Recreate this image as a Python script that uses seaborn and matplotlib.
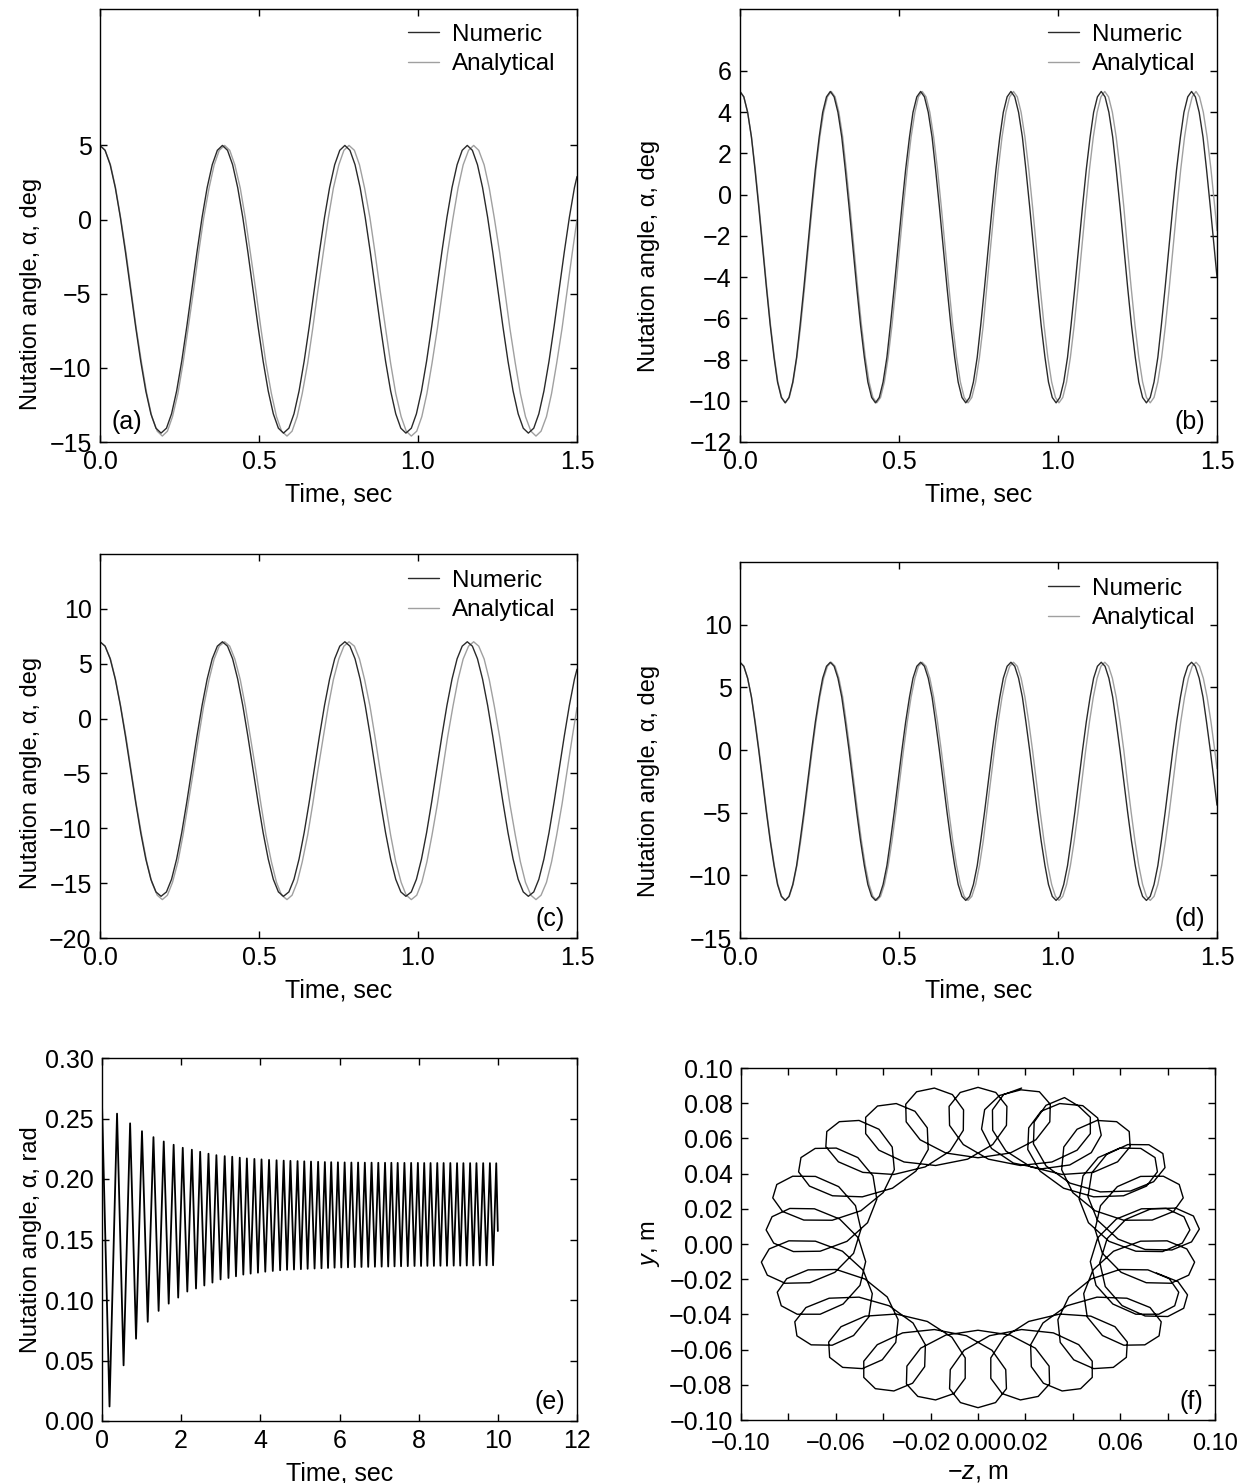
import matplotlib
matplotlib.use("Agg")
import matplotlib.pyplot as plt
from matplotlib.transforms import blended_transform_factory, offset_copy
import seaborn as sns
import pandas as pd

# ---- panels (a) and (c): time samples (sec) ----
time_ac_num = [0.000, 0.016, 0.032, 0.048, 0.064, 0.080, 0.096, 0.112, 0.128, 0.144, 0.160, 0.176,
               0.192, 0.209, 0.225, 0.241, 0.257, 0.273, 0.289, 0.305, 0.321, 0.337, 0.353, 0.369,
               0.385, 0.401, 0.417, 0.433, 0.449, 0.465, 0.481, 0.497, 0.513, 0.529, 0.545, 0.561,
               0.577, 0.594, 0.610, 0.626, 0.642, 0.658, 0.674, 0.690, 0.706, 0.722, 0.738, 0.754,
               0.770, 0.786, 0.802, 0.818, 0.834, 0.850, 0.866, 0.882, 0.898, 0.914, 0.930, 0.946,
               0.962, 0.979, 0.995, 1.011, 1.027, 1.043, 1.059, 1.075, 1.091, 1.107, 1.123, 1.139,
               1.155, 1.171, 1.187, 1.203, 1.219, 1.235, 1.251, 1.267, 1.283, 1.299, 1.315, 1.331,
               1.347, 1.364, 1.380, 1.396, 1.412, 1.428, 1.444, 1.460, 1.476, 1.492, 1.500]
time_ac_ana = [0.000, 0.016, 0.033, 0.049, 0.065, 0.082, 0.098, 0.114, 0.131, 0.147, 0.163, 0.180,
               0.196, 0.212, 0.228, 0.245, 0.261, 0.277, 0.294, 0.310, 0.326, 0.343, 0.359, 0.375,
               0.392, 0.408, 0.424, 0.441, 0.457, 0.473, 0.490, 0.506, 0.522, 0.539, 0.555, 0.571,
               0.588, 0.604, 0.620, 0.636, 0.653, 0.669, 0.685, 0.702, 0.718, 0.734, 0.751, 0.767,
               0.783, 0.800, 0.816, 0.832, 0.849, 0.865, 0.881, 0.898, 0.914, 0.930, 0.947, 0.963,
               0.979, 0.996, 1.012, 1.028, 1.044, 1.061, 1.077, 1.093, 1.110, 1.126, 1.142, 1.159,
               1.175, 1.191, 1.208, 1.224, 1.240, 1.257, 1.273, 1.289, 1.306, 1.322, 1.338, 1.355,
               1.371, 1.387, 1.404, 1.420, 1.436, 1.453, 1.469, 1.485, 1.500]

a_num = [5.00, 4.67, 3.70, 2.16, 0.15, -2.19, -4.70, -7.21, -9.55, -11.56, -13.10, -14.07,
         -14.40, -14.07, -13.10, -11.56, -9.55, -7.21, -4.70, -2.19, 0.15, 2.16, 3.70, 4.67,
         5.00, 4.67, 3.70, 2.16, 0.15, -2.19, -4.70, -7.21, -9.55, -11.56, -13.10, -14.07,
         -14.40, -14.07, -13.10, -11.56, -9.55, -7.21, -4.70, -2.19, 0.15, 2.16, 3.70, 4.67,
         5.00, 4.67, 3.70, 2.16, 0.15, -2.19, -4.70, -7.21, -9.55, -11.56, -13.10, -14.07,
         -14.40, -14.07, -13.10, -11.56, -9.55, -7.21, -4.70, -2.19, 0.15, 2.16, 3.70, 4.67,
         5.00, 4.67, 3.70, 2.16, 0.15, -2.19, -4.70, -7.21, -9.55, -11.56, -13.10, -14.07,
         -14.40, -14.07, -13.10, -11.56, -9.55, -7.21, -4.70, -2.19, 0.15, 2.16, 2.90]
a_ana = [5.00, 4.67, 3.69, 2.13, 0.10, -2.26, -4.80, -7.34, -9.70, -11.73, -13.29, -14.27,
         -14.60, -14.27, -13.29, -11.73, -9.70, -7.34, -4.80, -2.26, 0.10, 2.13, 3.69, 4.67,
         5.00, 4.67, 3.69, 2.13, 0.10, -2.26, -4.80, -7.34, -9.70, -11.73, -13.29, -14.27,
         -14.60, -14.27, -13.29, -11.73, -9.70, -7.34, -4.80, -2.26, 0.10, 2.13, 3.69, 4.67,
         5.00, 4.67, 3.69, 2.13, 0.10, -2.26, -4.80, -7.34, -9.70, -11.73, -13.29, -14.27,
         -14.60, -14.27, -13.29, -11.73, -9.70, -7.34, -4.80, -2.26, 0.10, 2.13, 3.69, 4.67,
         5.00, 4.67, 3.69, 2.13, 0.10, -2.26, -4.80, -7.34, -9.70, -11.73, -13.29, -14.27,
         -14.60, -14.27, -13.29, -11.73, -9.70, -7.34, -4.80, -2.26, 0.00]

c_num = [7.00, 6.60, 5.45, 3.60, 1.20, -1.60, -4.60, -7.60, -10.40, -12.80, -14.65, -15.80,
         -16.20, -15.80, -14.65, -12.80, -10.40, -7.60, -4.60, -1.60, 1.20, 3.60, 5.45, 6.60,
         7.00, 6.60, 5.45, 3.60, 1.20, -1.60, -4.60, -7.60, -10.40, -12.80, -14.65, -15.80,
         -16.20, -15.80, -14.65, -12.80, -10.40, -7.60, -4.60, -1.60, 1.20, 3.60, 5.45, 6.60,
         7.00, 6.60, 5.45, 3.60, 1.20, -1.60, -4.60, -7.60, -10.40, -12.80, -14.65, -15.80,
         -16.20, -15.80, -14.65, -12.80, -10.40, -7.60, -4.60, -1.60, 1.20, 3.60, 5.45, 6.60,
         7.00, 6.60, 5.45, 3.60, 1.20, -1.60, -4.60, -7.60, -10.40, -12.80, -14.65, -15.80,
         -16.20, -15.80, -14.65, -12.80, -10.40, -7.60, -4.60, -1.60, 1.20, 3.60, 4.50]
c_ana = [7.00, 6.60, 5.43, 3.56, 1.13, -1.71, -4.75, -7.79, -10.63, -13.06, -14.93, -16.10,
         -16.50, -16.10, -14.93, -13.06, -10.63, -7.79, -4.75, -1.71, 1.13, 3.56, 5.43, 6.60,
         7.00, 6.60, 5.43, 3.56, 1.13, -1.71, -4.75, -7.79, -10.63, -13.06, -14.93, -16.10,
         -16.50, -16.10, -14.93, -13.06, -10.63, -7.79, -4.75, -1.71, 1.13, 3.56, 5.43, 6.60,
         7.00, 6.60, 5.43, 3.56, 1.13, -1.71, -4.75, -7.79, -10.63, -13.06, -14.93, -16.10,
         -16.50, -16.10, -14.93, -13.06, -10.63, -7.79, -4.75, -1.71, 1.13, 3.56, 5.43, 6.60,
         7.00, 6.60, 5.43, 3.56, 1.13, -1.71, -4.75, -7.79, -10.63, -13.06, -14.93, -16.10,
         -16.50, -16.10, -14.93, -13.06, -10.63, -7.79, -4.75, -1.71, 1.00]

# ---- panels (b) and (d) ----
time_bd_num = [0.000, 0.012, 0.024, 0.036, 0.047, 0.059, 0.071, 0.083, 0.095, 0.107, 0.118, 0.130,
               0.142, 0.154, 0.166, 0.178, 0.189, 0.201, 0.213, 0.225, 0.237, 0.249, 0.260, 0.272,
               0.284, 0.296, 0.308, 0.320, 0.331, 0.343, 0.355, 0.367, 0.379, 0.391, 0.402, 0.414,
               0.426, 0.438, 0.450, 0.462, 0.473, 0.485, 0.497, 0.509, 0.521, 0.533, 0.544, 0.556,
               0.568, 0.580, 0.592, 0.604, 0.615, 0.627, 0.639, 0.651, 0.663, 0.675, 0.686, 0.698,
               0.710, 0.722, 0.734, 0.746, 0.757, 0.769, 0.781, 0.793, 0.805, 0.817, 0.828, 0.840,
               0.852, 0.864, 0.876, 0.888, 0.899, 0.911, 0.923, 0.935, 0.947, 0.959, 0.970, 0.982,
               0.994, 1.006, 1.018, 1.030, 1.041, 1.053, 1.065, 1.077, 1.089, 1.101, 1.112, 1.124,
               1.136, 1.148, 1.160, 1.172, 1.183, 1.195, 1.207, 1.219, 1.231, 1.243, 1.254, 1.266,
               1.278, 1.290, 1.302, 1.314, 1.325, 1.337, 1.349, 1.361, 1.373, 1.385, 1.396, 1.408,
               1.420, 1.432, 1.444, 1.456, 1.467, 1.479, 1.491, 1.500]
time_bd_ana = [0.000, 0.012, 0.024, 0.036, 0.048, 0.060, 0.072, 0.084, 0.096, 0.108, 0.119, 0.131,
               0.143, 0.155, 0.167, 0.179, 0.191, 0.203, 0.215, 0.227, 0.239, 0.251, 0.263, 0.275,
               0.287, 0.299, 0.311, 0.323, 0.334, 0.346, 0.358, 0.370, 0.382, 0.394, 0.406, 0.418,
               0.430, 0.442, 0.454, 0.466, 0.478, 0.490, 0.502, 0.514, 0.526, 0.538, 0.550, 0.561,
               0.573, 0.585, 0.597, 0.609, 0.621, 0.633, 0.645, 0.657, 0.669, 0.681, 0.693, 0.705,
               0.717, 0.729, 0.741, 0.753, 0.765, 0.776, 0.788, 0.800, 0.812, 0.824, 0.836, 0.848,
               0.860, 0.872, 0.884, 0.896, 0.908, 0.920, 0.932, 0.944, 0.956, 0.968, 0.980, 0.992,
               1.003, 1.015, 1.027, 1.039, 1.051, 1.063, 1.075, 1.087, 1.099, 1.111, 1.123, 1.135,
               1.147, 1.159, 1.171, 1.183, 1.195, 1.207, 1.218, 1.230, 1.242, 1.254, 1.266, 1.278,
               1.290, 1.302, 1.314, 1.326, 1.338, 1.350, 1.362, 1.374, 1.386, 1.398, 1.410, 1.422,
               1.434, 1.445, 1.457, 1.469, 1.481, 1.493, 1.500]

b_num = [5.00, 4.74, 3.99, 2.79, 1.23, -0.60, -2.55, -4.50, -6.33, -7.89, -9.09, -9.84,
         -10.10, -9.84, -9.09, -7.89, -6.33, -4.50, -2.55, -0.60, 1.23, 2.79, 3.99, 4.74,
         5.00, 4.74, 3.99, 2.79, 1.23, -0.60, -2.55, -4.50, -6.33, -7.89, -9.09, -9.84,
         -10.10, -9.84, -9.09, -7.89, -6.33, -4.50, -2.55, -0.60, 1.23, 2.79, 3.99, 4.74,
         5.00, 4.74, 3.99, 2.79, 1.23, -0.60, -2.55, -4.50, -6.33, -7.89, -9.09, -9.84,
         -10.10, -9.84, -9.09, -7.89, -6.33, -4.50, -2.55, -0.60, 1.23, 2.79, 3.99, 4.74,
         5.00, 4.74, 3.99, 2.79, 1.23, -0.60, -2.55, -4.50, -6.33, -7.89, -9.09, -9.84,
         -10.10, -9.84, -9.09, -7.89, -6.33, -4.50, -2.55, -0.60, 1.23, 2.79, 3.99, 4.74,
         5.00, 4.74, 3.99, 2.79, 1.23, -0.60, -2.55, -4.50, -6.33, -7.89, -9.09, -9.84,
         -10.10, -9.84, -9.09, -7.89, -6.33, -4.50, -2.55, -0.60, 1.23, 2.79, 3.99, 4.74,
         5.00, 4.74, 3.99, 2.79, 1.23, -0.60, -2.55, -4.00]
b_ana = [5.00, 4.74, 3.99, 2.79, 1.23, -0.60, -2.55, -4.50, -6.33, -7.89, -9.09, -9.84,
         -10.10, -9.84, -9.09, -7.89, -6.33, -4.50, -2.55, -0.60, 1.23, 2.79, 3.99, 4.74,
         5.00, 4.74, 3.99, 2.79, 1.23, -0.60, -2.55, -4.50, -6.33, -7.89, -9.09, -9.84,
         -10.10, -9.84, -9.09, -7.89, -6.33, -4.50, -2.55, -0.60, 1.23, 2.79, 3.99, 4.74,
         5.00, 4.74, 3.99, 2.79, 1.23, -0.60, -2.55, -4.50, -6.33, -7.89, -9.09, -9.84,
         -10.10, -9.84, -9.09, -7.89, -6.33, -4.50, -2.55, -0.60, 1.23, 2.79, 3.99, 4.74,
         5.00, 4.74, 3.99, 2.79, 1.23, -0.60, -2.55, -4.50, -6.33, -7.89, -9.09, -9.84,
         -10.10, -9.84, -9.09, -7.89, -6.33, -4.50, -2.55, -0.60, 1.23, 2.79, 3.99, 4.74,
         5.00, 4.74, 3.99, 2.79, 1.23, -0.60, -2.55, -4.50, -6.33, -7.89, -9.09, -9.84,
         -10.10, -9.84, -9.09, -7.89, -6.33, -4.50, -2.55, -0.60, 1.23, 2.79, 3.99, 4.74,
         5.00, 4.74, 3.99, 2.79, 1.23, -0.60, -1.75]

d_num = [7.00, 6.68, 5.73, 4.22, 2.25, -0.04, -2.50, -4.96, -7.25, -9.22, -10.73, -11.68,
         -12.00, -11.68, -10.73, -9.22, -7.25, -4.96, -2.50, -0.04, 2.25, 4.22, 5.73, 6.68,
         7.00, 6.68, 5.73, 4.22, 2.25, -0.04, -2.50, -4.96, -7.25, -9.22, -10.73, -11.68,
         -12.00, -11.68, -10.73, -9.22, -7.25, -4.96, -2.50, -0.04, 2.25, 4.22, 5.73, 6.68,
         7.00, 6.68, 5.73, 4.22, 2.25, -0.04, -2.50, -4.96, -7.25, -9.22, -10.73, -11.68,
         -12.00, -11.68, -10.73, -9.22, -7.25, -4.96, -2.50, -0.04, 2.25, 4.22, 5.73, 6.68,
         7.00, 6.68, 5.73, 4.22, 2.25, -0.04, -2.50, -4.96, -7.25, -9.22, -10.73, -11.68,
         -12.00, -11.68, -10.73, -9.22, -7.25, -4.96, -2.50, -0.04, 2.25, 4.22, 5.73, 6.68,
         7.00, 6.68, 5.73, 4.22, 2.25, -0.04, -2.50, -4.96, -7.25, -9.22, -10.73, -11.68,
         -12.00, -11.68, -10.73, -9.22, -7.25, -4.96, -2.50, -0.04, 2.25, 4.22, 5.73, 6.68,
         7.00, 6.68, 5.73, 4.22, 2.25, -0.04, -2.50, -4.40]
d_ana = [7.00, 6.68, 5.73, 4.22, 2.25, -0.04, -2.50, -4.96, -7.25, -9.22, -10.73, -11.68,
         -12.00, -11.68, -10.73, -9.22, -7.25, -4.96, -2.50, -0.04, 2.25, 4.22, 5.73, 6.68,
         7.00, 6.68, 5.73, 4.22, 2.25, -0.04, -2.50, -4.96, -7.25, -9.22, -10.73, -11.68,
         -12.00, -11.68, -10.73, -9.22, -7.25, -4.96, -2.50, -0.04, 2.25, 4.22, 5.73, 6.68,
         7.00, 6.68, 5.73, 4.22, 2.25, -0.04, -2.50, -4.96, -7.25, -9.22, -10.73, -11.68,
         -12.00, -11.68, -10.73, -9.22, -7.25, -4.96, -2.50, -0.04, 2.25, 4.22, 5.73, 6.68,
         7.00, 6.68, 5.73, 4.22, 2.25, -0.04, -2.50, -4.96, -7.25, -9.22, -10.73, -11.68,
         -12.00, -11.68, -10.73, -9.22, -7.25, -4.96, -2.50, -0.04, 2.25, 4.22, 5.73, 6.68,
         7.00, 6.68, 5.73, 4.22, 2.25, -0.04, -2.50, -4.96, -7.25, -9.22, -10.73, -11.68,
         -12.00, -11.68, -10.73, -9.22, -7.25, -4.96, -2.50, -0.04, 2.25, 4.22, 5.73, 6.68,
         7.00, 6.68, 5.73, 4.22, 2.25, -0.04, -1.50]

# ---- panel (e): peaks and troughs of alpha (rad) ----
peak_t = [0.00, 0.38, 0.71, 1.01, 1.30, 1.56, 1.81, 2.04, 2.27, 2.48, 2.69, 2.89, 3.10, 3.29,
          3.48, 3.66, 3.85, 4.03, 4.22, 4.41, 4.59, 4.76, 4.94, 5.11, 5.28, 5.46, 5.63, 5.79,
          5.96, 6.13, 6.30, 6.47, 6.64, 6.81, 6.98, 7.15, 7.31, 7.47, 7.64, 7.81, 7.98, 8.14,
          8.30, 8.47, 8.63, 8.80, 8.97, 9.13, 9.30, 9.46, 9.63, 9.80, 9.96]
peak_v = [0.262, 0.254, 0.246, 0.2395, 0.2346, 0.231, 0.2283, 0.2258, 0.2242, 0.2225, 0.2209,
          0.2197, 0.2189, 0.2184, 0.2176, 0.2170, 0.2166, 0.2162, 0.2158, 0.2155, 0.2152, 0.2150,
          0.2148, 0.2146, 0.2144, 0.2142, 0.2140, 0.2139, 0.2138, 0.2137, 0.2136, 0.2136, 0.2135,
          0.2135, 0.2134, 0.2134, 0.2134, 0.2133, 0.2133, 0.2133, 0.2133, 0.2132, 0.2132, 0.2132,
          0.2132, 0.2132, 0.2131, 0.2131, 0.2131, 0.2131, 0.2131, 0.2131, 0.2130]
trough_t = [0.19, 0.545, 0.86, 1.155, 1.43, 1.685, 1.925, 2.155, 2.375, 2.585, 2.79, 2.995,
            3.195, 3.385, 3.57, 3.755, 3.94, 4.125, 4.315, 4.50, 4.675, 4.85, 5.025, 5.195,
            5.37, 5.545, 5.71, 5.875, 6.045, 6.215, 6.385, 6.555, 6.725, 6.895, 7.065, 7.23,
            7.39, 7.555, 7.725, 7.895, 8.06, 8.22, 8.385, 8.55, 8.715, 8.885, 9.05, 9.215,
            9.38, 9.545, 9.715, 9.88]
trough_v = [0.012, 0.046, 0.068, 0.082, 0.091, 0.097, 0.102, 0.107, 0.1095, 0.112, 0.1144,
            0.117, 0.1182, 0.1196, 0.121, 0.1218, 0.1226, 0.1234, 0.124, 0.1246, 0.125, 0.1252,
            0.1255, 0.1258, 0.126, 0.1262, 0.1265, 0.1267, 0.1269, 0.1270, 0.1272, 0.1273,
            0.1274, 0.1275, 0.1276, 0.1277, 0.1278, 0.1279, 0.1280, 0.1281, 0.1281, 0.1282,
            0.1282, 0.1283, 0.1283, 0.1284, 0.1284, 0.1285, 0.1285, 0.1286, 0.1286, 0.1287]
end_t, end_v = 10.0, 0.157

# ---- panel (f): trajectory, -z and y (m) ----
minus_z = [0.0184, 0.0108, 0.0061, 0.0062, 0.0118, 0.0223, 0.0355, 0.0486, 0.0589, 0.0642, 0.0638, 0.0585,
           0.0502, 0.0418, 0.0362, 0.0353, 0.0400, 0.0494, 0.0615, 0.0735, 0.0825, 0.0866, 0.0849, 0.0782,
           0.0686, 0.0588, 0.0517, 0.0494, 0.0525, 0.0604, 0.0710, 0.0814, 0.0889, 0.0914, 0.0881, 0.0798,
           0.0686, 0.0572, 0.0485, 0.0446, 0.0461, 0.0525, 0.0615, 0.0704, 0.0764, 0.0773, 0.0726, 0.0628,
           0.0502, 0.0375, 0.0274, 0.0222, 0.0225, 0.0276, 0.0355, 0.0433, 0.0482, 0.0482, 0.0425, 0.0318,
           0.0184, 0.0049, -0.0059, -0.0117, -0.0120, -0.0074, 0.0000, 0.0074, 0.0120, 0.0117, 0.0059, -0.0049,
           -0.0184, -0.0318, -0.0425, -0.0482, -0.0482, -0.0433, -0.0355, -0.0276, -0.0225, -0.0222, -0.0274, -0.0375,
           -0.0502, -0.0628, -0.0726, -0.0773, -0.0764, -0.0704, -0.0615, -0.0525, -0.0461, -0.0446, -0.0485, -0.0572,
           -0.0686, -0.0798, -0.0881, -0.0914, -0.0889, -0.0814, -0.0710, -0.0604, -0.0525, -0.0494, -0.0517, -0.0588,
           -0.0686, -0.0782, -0.0849, -0.0866, -0.0825, -0.0735, -0.0615, -0.0494, -0.0400, -0.0353, -0.0362, -0.0418,
           -0.0502, -0.0585, -0.0638, -0.0642, -0.0589, -0.0486, -0.0355, -0.0223, -0.0118, -0.0062, -0.0061, -0.0108,
           -0.0184, -0.0259, -0.0305, -0.0303, -0.0244, -0.0136, 0.0000, 0.0136, 0.0244, 0.0303, 0.0305, 0.0259,
           0.0181, 0.0091, 0.0028, 0.0015, 0.0057, 0.0149, 0.0268, 0.0387, 0.0478, 0.0520, 0.0505, 0.0442,
           0.0345, 0.0266, 0.0214, 0.0210, 0.0262, 0.0361, 0.0488, 0.0614, 0.0711, 0.0757, 0.0747, 0.0687,
           0.0598, 0.0507, 0.0443, 0.0427, 0.0466, 0.0553, 0.0666, 0.0779, 0.0862, 0.0894, 0.0869, 0.0794,
           0.0690, 0.0584, 0.0505, 0.0474, 0.0498, 0.0569, 0.0666, 0.0763, 0.0830, 0.0847, 0.0807, 0.0717,
           0.0598, 0.0477, 0.0383, 0.0337, 0.0347, 0.0404, 0.0488, 0.0571, 0.0626, 0.0630, 0.0578, 0.0476,
           0.0345, 0.0214, 0.0110, 0.0054, 0.0054, 0.0102, 0.0179, 0.0254, 0.0302, 0.0300, 0.0242, 0.0135,
           0.0000, -0.0135, -0.0242, -0.0300, -0.0302, -0.0254, -0.0179, -0.0102, -0.0054, -0.0054, -0.0110, -0.0214,
           -0.0345, -0.0476, -0.0578, -0.0630, -0.0626, -0.0571, -0.0488, -0.0404, -0.0347, -0.0337, -0.0383, -0.0477,
           -0.0598, -0.0717, -0.0807, -0.0847, -0.0830, -0.0763, -0.0666, -0.0569, -0.0498, -0.0474, -0.0505, -0.0584,
           -0.0690, -0.0794, -0.0869, -0.0894, -0.0862, -0.0779, -0.0666, -0.0553, -0.0466, -0.0427, -0.0443, -0.0507,
           -0.0598, -0.0687, -0.0747, -0.0757, -0.0711, -0.0614, -0.0488, -0.0361, -0.0262, -0.0210, -0.0214, -0.0266,
           -0.0345, -0.0424, -0.0474, -0.0474, -0.0418, -0.0312, -0.0179, -0.0044, 0.0062, 0.0120, 0.0122, 0.0075,
           0.0000, -0.0075, -0.0122, -0.0120, -0.0062, 0.0044, 0.0179, 0.0312, 0.0418, 0.0474, 0.0474, 0.0424,
           0.0365, 0.0287, 0.0237, 0.0234, 0.0287, 0.0388, 0.0516, 0.0643, 0.0741, 0.0789, 0.0780, 0.0721,
           0.0632, 0.0543, 0.0480, 0.0464, 0.0504, 0.0591, 0.0705, 0.0818, 0.0901, 0.0934, 0.0909, 0.0834,
           0.0730, 0.0624, 0.0545, 0.0514, 0.0537, 0.0608, 0.0705, 0.0801, 0.0868, 0.0884, 0.0844, 0.0753]
y_pos = [0.0886, 0.0849, 0.0762, 0.0646, 0.0528, 0.0438, 0.0395, 0.0407, 0.0467, 0.0553, 0.0639, 0.0695,
         0.0702, 0.0652, 0.0551, 0.0422, 0.0292, 0.0189, 0.0135, 0.0136, 0.0185, 0.0262, 0.0338, 0.0385,
         0.0384, 0.0326, 0.0218, 0.0083, -0.0053, -0.0161, -0.0220, -0.0223, -0.0177, -0.0103, -0.0028, 0.0018,
         0.0016, -0.0041, -0.0148, -0.0282, -0.0415, -0.0520, -0.0575, -0.0573, -0.0522, -0.0442, -0.0361, -0.0308,
         -0.0302, -0.0351, -0.0449, -0.0573, -0.0697, -0.0791, -0.0835, -0.0822, -0.0758, -0.0666, -0.0572, -0.0505,
         -0.0486, -0.0521, -0.0604, -0.0714, -0.0822, -0.0901, -0.0930, -0.0901, -0.0822, -0.0714, -0.0604, -0.0521,
         -0.0486, -0.0505, -0.0572, -0.0666, -0.0758, -0.0822, -0.0835, -0.0791, -0.0697, -0.0573, -0.0449, -0.0351,
         -0.0302, -0.0308, -0.0361, -0.0442, -0.0522, -0.0573, -0.0575, -0.0520, -0.0415, -0.0282, -0.0148, -0.0041,
         0.0016, 0.0018, -0.0028, -0.0103, -0.0177, -0.0223, -0.0220, -0.0161, -0.0053, 0.0083, 0.0218, 0.0326,
         0.0384, 0.0385, 0.0338, 0.0262, 0.0185, 0.0136, 0.0135, 0.0189, 0.0292, 0.0422, 0.0551, 0.0652,
         0.0702, 0.0695, 0.0639, 0.0553, 0.0467, 0.0407, 0.0395, 0.0438, 0.0528, 0.0646, 0.0762, 0.0849,
         0.0886, 0.0865, 0.0794, 0.0694, 0.0592, 0.0517, 0.0490, 0.0517, 0.0592, 0.0694, 0.0794, 0.0865,
         0.0876, 0.0844, 0.0763, 0.0653, 0.0543, 0.0460, 0.0427, 0.0449, 0.0519, 0.0618, 0.0716, 0.0786,
         0.0798, 0.0754, 0.0660, 0.0537, 0.0414, 0.0317, 0.0268, 0.0274, 0.0329, 0.0410, 0.0491, 0.0543,
         0.0545, 0.0491, 0.0387, 0.0254, 0.0121, 0.0015, -0.0041, -0.0043, 0.0005, 0.0080, 0.0155, 0.0202,
         0.0200, 0.0142, 0.0035, -0.0100, -0.0235, -0.0341, -0.0399, -0.0399, -0.0351, -0.0274, -0.0197, -0.0147,
         -0.0145, -0.0199, -0.0301, -0.0430, -0.0559, -0.0658, -0.0708, -0.0701, -0.0644, -0.0557, -0.0470, -0.0410,
         -0.0398, -0.0440, -0.0530, -0.0647, -0.0763, -0.0850, -0.0886, -0.0866, -0.0795, -0.0694, -0.0592, -0.0517,
         -0.0490, -0.0517, -0.0592, -0.0694, -0.0795, -0.0866, -0.0886, -0.0850, -0.0763, -0.0647, -0.0530, -0.0440,
         -0.0398, -0.0410, -0.0470, -0.0557, -0.0644, -0.0701, -0.0708, -0.0658, -0.0559, -0.0430, -0.0301, -0.0199,
         -0.0145, -0.0147, -0.0197, -0.0274, -0.0351, -0.0399, -0.0399, -0.0341, -0.0235, -0.0100, 0.0035, 0.0142,
         0.0200, 0.0202, 0.0155, 0.0080, 0.0005, -0.0043, -0.0041, 0.0015, 0.0121, 0.0254, 0.0387, 0.0491,
         0.0545, 0.0543, 0.0491, 0.0410, 0.0329, 0.0274, 0.0268, 0.0317, 0.0414, 0.0537, 0.0660, 0.0754,
         0.0798, 0.0784, 0.0720, 0.0627, 0.0533, 0.0466, 0.0446, 0.0482, 0.0565, 0.0674, 0.0782, 0.0861,
         0.0890, 0.0861, 0.0782, 0.0674, 0.0565, 0.0482, 0.0446, 0.0466, 0.0533, 0.0627, 0.0720, 0.0784,
         0.0832, 0.0788, 0.0693, 0.0569, 0.0444, 0.0346, 0.0296, 0.0301, 0.0354, 0.0434, 0.0514, 0.0564,
         0.0565, 0.0509, 0.0404, 0.0269, 0.0135, 0.0028, -0.0031, -0.0034, 0.0012, 0.0085, 0.0159, 0.0204,
         0.0200, 0.0140, 0.0031, -0.0105, -0.0242, -0.0350, -0.0409, -0.0412, -0.0365, -0.0289, -0.0214, -0.0165]

NUM_C = "#2a2a2a"
ANA_C = "#a0a0a0"
FS = 18
LFS = 17

sns.set_theme(style="ticks")
plt.rcParams['font.family'] = ['Liberation Sans', 'DejaVu Sans']
plt.rcParams['mathtext.fontset'] = 'custom'
plt.rcParams['mathtext.it'] = 'Liberation Sans:italic'
plt.rcParams['mathtext.rm'] = 'Liberation Sans'
plt.rcParams['text.color'] = 'black'
plt.rcParams['axes.labelcolor'] = 'black'

W, H = 1250, 1483
fig = plt.figure(figsize=(W / 100, H / 100), dpi=100)
fig.patch.set_facecolor("white")


def box(l, r, t, b):
    return [l / W, 1 - b / H, (r - l) / W, (b - t) / H]


def style(ax):
    ax.set_facecolor("white")
    ax.tick_params(axis="both", direction="in", length=5, width=1.0, top=True, right=True,
                   labelsize=FS, pad=6, colors="black")
    for sp in ax.spines.values():
        sp.set_linewidth(1.0)
        sp.set_color("black")


def place_ylabel(ax, left_px, width_px, label_px, y_center):
    # label_px: wanted x of the label centre (pixels); y_center in data units
    trans = blended_transform_factory(ax.transAxes, ax.transData)
    ax.yaxis.set_label_coords((label_px + 12 - left_px) / width_px, y_center, transform=trans)


def compare_panel(rect, t_num, v_num, t_ana, v_ana, ylim, yticks, tag, tag_left, label_px):
    ax = fig.add_axes(box(*rect))
    df = pd.concat([
        pd.DataFrame({"t": t_ana, "alpha": v_ana, "series": "Analytical"}),
        pd.DataFrame({"t": t_num, "alpha": v_num, "series": "Numeric"}),
    ])
    sns.lineplot(data=df, x="t", y="alpha", hue="series", hue_order=["Analytical", "Numeric"],
                 palette={"Numeric": NUM_C, "Analytical": ANA_C}, estimator=None,
                 linewidth=1.0, legend=False, ax=ax)
    ax.set_xlim(0, 1.5)
    ax.set_ylim(*ylim)
    ax.set_xticks([0.0, 0.5, 1.0, 1.5])
    ax.set_xticklabels(["0.0", "0.5", "1.0", "1.5"])
    ax.set_yticks(yticks)
    ax.set_xlabel("Time, sec", fontsize=FS, labelpad=6)
    ax.set_ylabel("Nutation angle, α, deg", fontsize=LFS)
    place_ylabel(ax, rect[0], rect[1] - rect[0], label_px, (yticks[0] + yticks[-1]) / 2)
    style(ax)
    lines = ax.get_lines()
    ax.legend([lines[1], lines[0]], ["Numeric", "Analytical"], loc="upper right", frameon=False,
              fontsize=17.5, handlelength=1.3, handletextpad=0.5, labelspacing=0.3,
              borderaxespad=0.5, bbox_to_anchor=(1.0, 1.016))
    if tag_left:
        ax.text(0.025, 0.018, tag, transform=ax.transAxes, ha="left", va="bottom", fontsize=FS)
    else:
        ax.text(0.975, 0.018, tag, transform=ax.transAxes, ha="right", va="bottom", fontsize=FS)
    return ax


compare_panel((100, 577, 9, 442), time_ac_num, a_num, time_ac_ana, a_ana,
              (-15, 14.2), [-15, -10, -5, 0, 5], "(a)", True, 30)
compare_panel((740, 1217, 9, 442), time_bd_num, b_num, time_bd_ana, b_ana,
              (-12, 9), [-12, -10, -8, -6, -4, -2, 0, 2, 4, 6], "(b)", False, 648)
compare_panel((100, 577, 554, 938), time_ac_num, c_num, time_ac_ana, c_ana,
              (-20, 15), [-20, -15, -10, -5, 0, 5, 10], "(c)", False, 30)
compare_panel((740, 1217, 562, 938), time_bd_num, d_num, time_bd_ana, d_ana,
              (-15, 15), [-15, -10, -5, 0, 5, 10], "(d)", False, 648)

# panel (e)
t_e, a_e = [], []
for i in range(len(peak_t)):
    t_e.append(peak_t[i])
    a_e.append(peak_v[i])
    if i < len(trough_t):
        t_e.append(trough_t[i])
        a_e.append(trough_v[i])
t_e.append(end_t)
a_e.append(end_v)

ax_e = fig.add_axes(box(102, 577, 1058, 1421))
sns.lineplot(x=t_e, y=a_e, color="black", linewidth=1.3, estimator=None, sort=False, ax=ax_e)
ax_e.set_xlim(0, 12)
ax_e.set_ylim(0, 0.30)
ax_e.set_xticks([0, 2, 4, 6, 8, 10, 12])
ax_e.set_yticks([0.0, 0.05, 0.10, 0.15, 0.20, 0.25, 0.30])
ax_e.set_yticklabels(["0.00", "0.05", "0.10", "0.15", "0.20", "0.25", "0.30"])
ax_e.set_xlabel("Time, sec", fontsize=FS, labelpad=6)
ax_e.set_ylabel("Nutation angle, α, rad", fontsize=LFS)
place_ylabel(ax_e, 102, 475, 30, 0.15)
style(ax_e)
ax_e.text(0.975, 0.018, "(e)", transform=ax_e.transAxes, ha="right", va="bottom", fontsize=FS)

# panel (f)
ax_f = fig.add_axes(box(741, 1215, 1068, 1420))
sns.lineplot(x=minus_z, y=y_pos, color="black", linewidth=1.0, estimator=None, sort=False, ax=ax_f)
ax_f.set_xlim(-0.10, 0.10)
ax_f.set_ylim(-0.10, 0.10)
fx = [-0.10, -0.08, -0.06, -0.04, -0.02, 0.00, 0.02, 0.04, 0.06, 0.08, 0.10]
ax_f.set_xticks(fx)
ax_f.set_xticklabels(["\u22120.10", "", "\u22120.06", "", "", "0.00", "0.02", "",
                      "0.06", "", "0.10"])
ax_f.set_yticks(fx)
ax_f.set_yticklabels(["\u22120.10", "\u22120.08", "\u22120.06", "\u22120.04", "\u22120.02", "0.00",
                      "0.02", "0.04", "0.06", "0.08", "0.10"])
ax_f.set_xlabel("\u2212$\\mathit{z}$, m", fontsize=FS, labelpad=4)
ax_f.set_ylabel("$\\mathit{y}$, m", fontsize=LFS)
place_ylabel(ax_f, 741, 474, 650, 0.0)
style(ax_f)
ax_f.tick_params(axis="x", labelsize=17, pad=9)
# the crowded "-0.02" tick label, nudged left so it does not run into "0.00"
lab_trans = offset_copy(blended_transform_factory(ax_f.transData, ax_f.transAxes),
                        fig=fig, x=-9, y=-12.5, units="dots")
ax_f.text(-0.02, 0.0, "\u22120.02", transform=lab_trans, ha="center", va="top", fontsize=17,
          color="black")
ax_f.text(0.975, 0.018, "(f)", transform=ax_f.transAxes, ha="right", va="bottom", fontsize=FS)

fig.savefig("out.png", dpi=100, facecolor="white")
